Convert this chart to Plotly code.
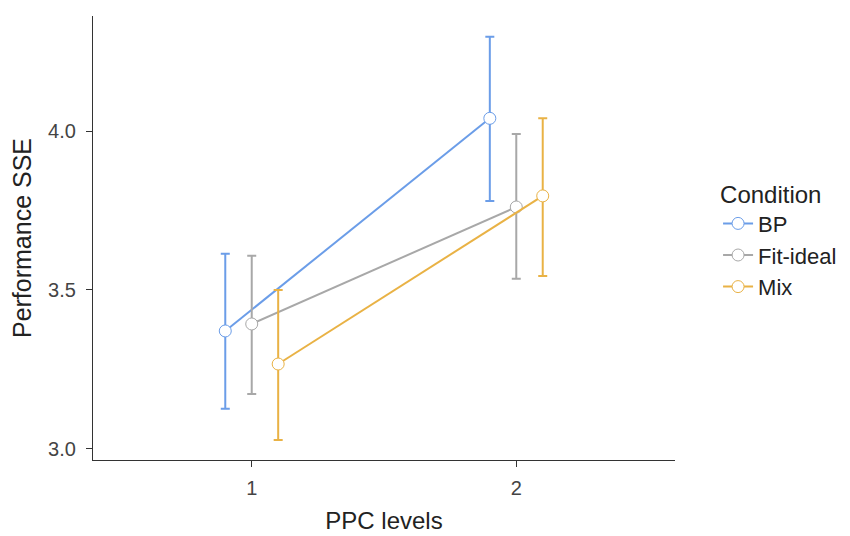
import plotly.graph_objects as go

levels = [1, 2]
conditions = ["BP", "Fit-ideal", "Mix"]
means = {
    "BP": [3.371, 4.040],
    "Fit-ideal": [3.393, 3.761],
    "Mix": [3.267, 3.796],
}
upper = {
    "BP": [3.614, 4.297],
    "Fit-ideal": [3.608, 3.991],
    "Mix": [3.500, 4.040],
}
lower = {
    "BP": [3.126, 3.780],
    "Fit-ideal": [3.173, 3.535],
    "Mix": [3.028, 3.544],
}
colors = {"BP": "#6b9de8", "Fit-ideal": "#a8a8a8", "Mix": "#e9b245"}
dodge = {"BP": -0.1, "Fit-ideal": 0.0, "Mix": 0.1}

fig = go.Figure()
for c in conditions:
    xs = [l + dodge[c] for l in levels]
    fig.add_trace(go.Scatter(
        x=xs, y=means[c], mode="lines+markers", name=c,
        line=dict(color=colors[c], width=2),
        marker=dict(size=12, color="white", line=dict(color=colors[c], width=1)),
        error_y=dict(type="data", symmetric=False,
                     array=[u - m for u, m in zip(upper[c], means[c])],
                     arrayminus=[m - lo for m, lo in zip(means[c], lower[c])],
                     color=colors[c], thickness=2, width=4.5),
    ))

fig.update_layout(
    width=850, height=536,
    margin=dict(l=85, r=183, t=8, b=84),
    paper_bgcolor="white", plot_bgcolor="white",
    font=dict(family="Liberation Sans, Arial, sans-serif", color="#333333"),
    legend=dict(title=dict(text="Condition", font=dict(size=24, color="#222")),
                font=dict(size=22, color="#222"),
                x=1.074, y=0.65, xanchor="left", yanchor="top",
                tracegroupgap=0, itemwidth=30),
    showlegend=True,
)
fig.update_xaxes(range=[0.4, 2.6], tickvals=levels, ticktext=[str(l) for l in levels],
                 showgrid=False, zeroline=False, showline=True, linecolor="#333333", linewidth=1.3,
                 ticks="outside", ticklen=6, tickcolor="#333333", tickwidth=1.3,
                 ticklabelstandoff=4,
                 tickfont=dict(size=20, color="#444"),
                 title=dict(text="PPC levels", font=dict(size=24, color="#222"), standoff=14))
fig.update_yaxes(range=[2.965, 4.362], tickvals=[3.0, 3.5, 4.0], ticktext=["3.0", "3.5", "4.0"],
                 showgrid=False, zeroline=False, showline=True, linecolor="#333333", linewidth=1.3,
                 ticks="outside", ticklen=6, tickcolor="#333333", tickwidth=1.3,
                 ticklabelstandoff=6,
                 tickfont=dict(size=20, color="#444"),
                 title=dict(text="Performance SSE", font=dict(size=25, color="#222"), standoff=14))

fig.write_html("out.html")
